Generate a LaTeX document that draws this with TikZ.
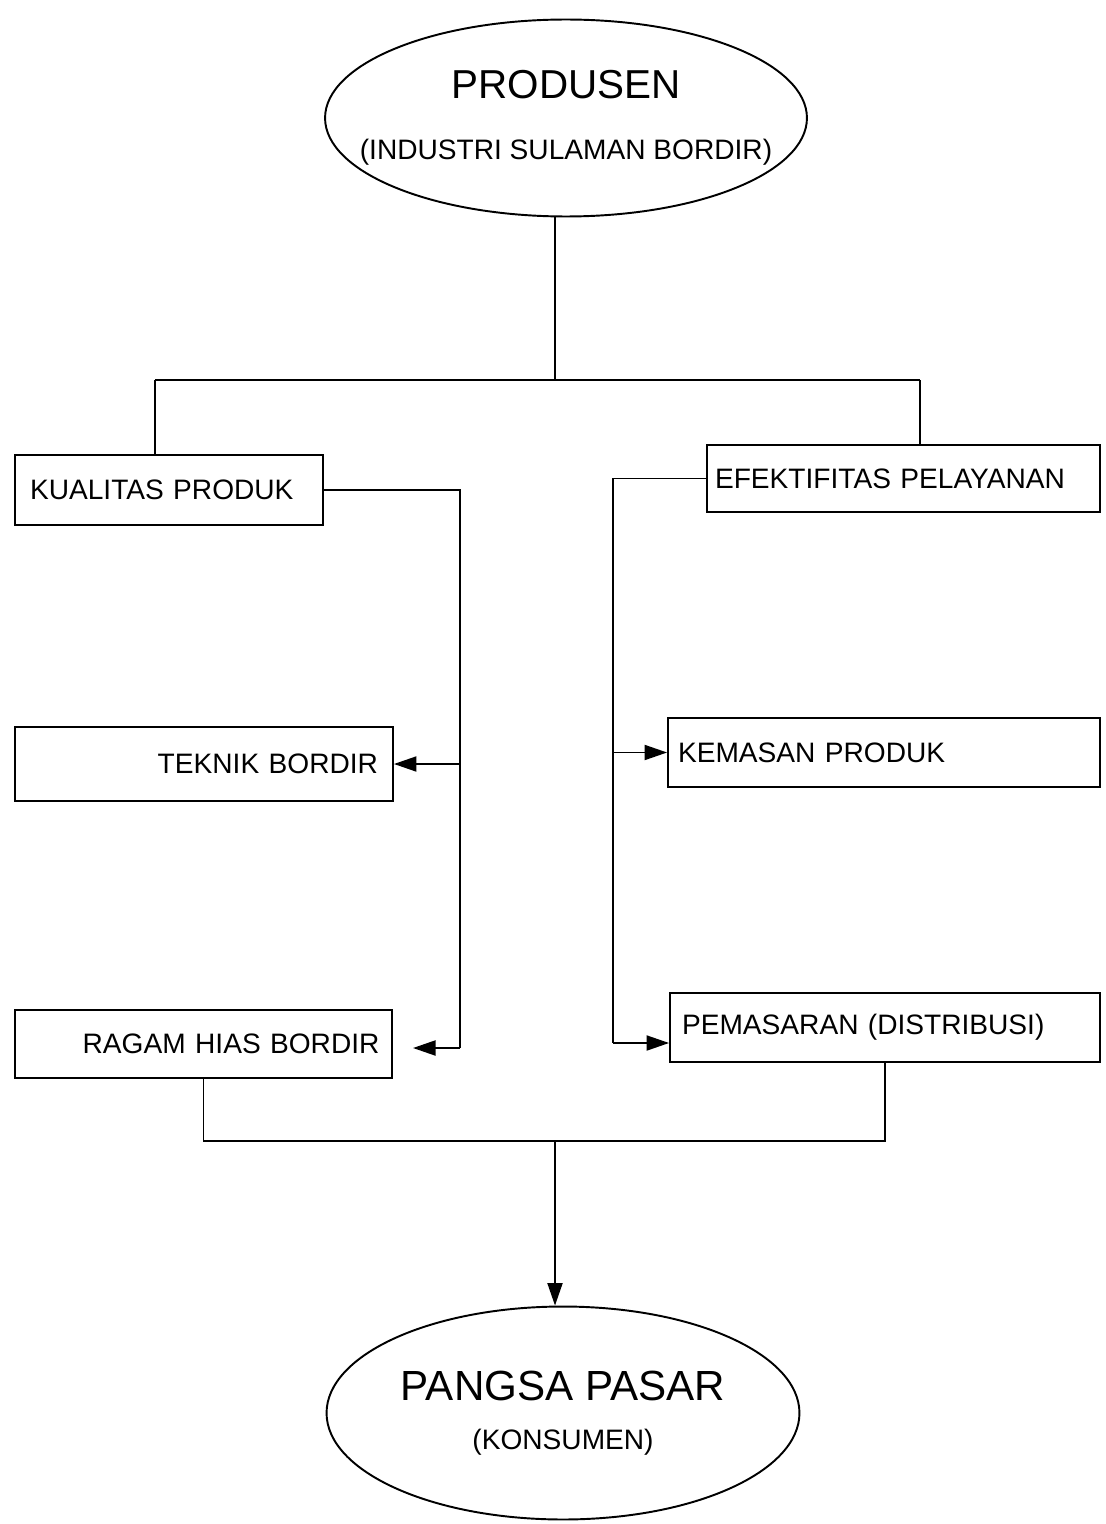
\documentclass[tikz,border=0pt]{standalone}
\usepackage{fontspec}
\setmainfont{Liberation Sans}
\usetikzlibrary{shapes.geometric,arrows.meta}

\tikzset{
  garis/.style={line width=1.1pt},
  kotak/.style={draw, line width=1.1pt, rectangle, inner ysep=0pt, font=\fontsize{16}{19}\selectfont},
  elips/.style={draw, line width=1.1pt, ellipse, inner xsep=-1cm, inner ysep=0pt, align=center},
  panah/.style={line width=1.1pt, -{Triangle[length=0.45cm,width=0.3cm]}}
}

\begin{document}
\begin{tikzpicture}[x=0.02cm, y=-0.02cm]
\useasboundingbox (0,0) rectangle (1105,1524);

% Drawing ellipse produsen
\node [elips, minimum width=9.64cm, minimum height=3.94cm] (produsen) at (566,118)
  {\fontsize{23}{28}\selectfont PRODUSEN\\[0.8cm]\fontsize{16}{19}\selectfont (INDUSTRI SULAMAN BORDIR)};%

% Drawing boxes left
\node [kotak, minimum width=6.16cm, minimum height=1.4cm, text width=5.56cm, inner xsep=0.3cm, align=left] (kualitas) at (169,490) {KUALITAS PRODUK};%
\node [kotak, minimum width=7.56cm, minimum height=1.48cm, text width=6.96cm, inner xsep=0.3cm, align=right] (teknik) at (204,764) {TEKNIK BORDIR};%
\node [kotak, minimum width=7.54cm, minimum height=1.36cm, text width=7.04cm, inner xsep=0.25cm, align=right] (ragam) at (203.5,1044) {RAGAM HIAS BORDIR};%

% Drawing boxes right
\node [kotak, minimum width=7.86cm, minimum height=1.34cm, text width=7.54cm, inner xsep=0.16cm, align=left] (efektif) at (903.5,478.5) {EFEKTIFITAS PELAYANAN};%
\node [kotak, minimum width=8.64cm, minimum height=1.38cm, text width=8.24cm, inner xsep=0.2cm, align=left] (kemasan) at (884,752.5) {KEMASAN PRODUK};%
\node [kotak, minimum width=8.6cm, minimum height=1.38cm, text width=8.12cm, inner xsep=0.24cm, align=left] (pemasaran) at (885,1027.5) {PEMASARAN (DISTRIBUSI)};%

% Drawing ellipse pangsa
\node [elips, minimum width=9.46cm, minimum height=4.26cm] (pangsa) at (563,1413)
  {\fontsize{24}{29}\selectfont PANGSA PASAR\\[0.55cm]\fontsize{16}{19}\selectfont (KONSUMEN)};%

% Junction points
\coordinate (atas) at (555,380);%
\coordinate (atasKiri) at (155,380);%
\coordinate (atasKanan) at (920,380);%
\coordinate (kiriBawah) at (460,1048);%
\coordinate (ujungRagam) at (413,1048);%
\coordinate (kananBawah) at (613,1043);%
\coordinate (tengahBawah) at (555,1141);%

% Drawing segment produsen atas
\draw [garis] (atas |- produsen.south) -- (atas);%
\draw [garis] (atasKiri) -- (atasKanan);%
\draw [garis] (atasKiri) -- (atasKiri |- kualitas.north);%
\draw [garis] (atasKanan) -- (atasKanan |- efektif.north);%

% Drawing left branch
\draw [garis] (kualitas.east) -| (kiriBawah);%
\draw [panah] (kiriBawah |- teknik.east) -- (teknik.east);%
\draw [panah] (kiriBawah) -- (ujungRagam);%

% Drawing right branch
\draw [garis] (efektif.west) -| (kananBawah);%
\draw [panah] (kananBawah |- kemasan.west) -- (kemasan.west);%
\draw [panah] (kananBawah) -- (pemasaran.west |- kananBawah);%

% Drawing bottom segment
\draw [garis] (ragam.south) |- (tengahBawah) -| (pemasaran.south);%
\draw [panah] (tengahBawah) -- (tengahBawah |- pangsa.north);%
\end{tikzpicture}
\end{document}
